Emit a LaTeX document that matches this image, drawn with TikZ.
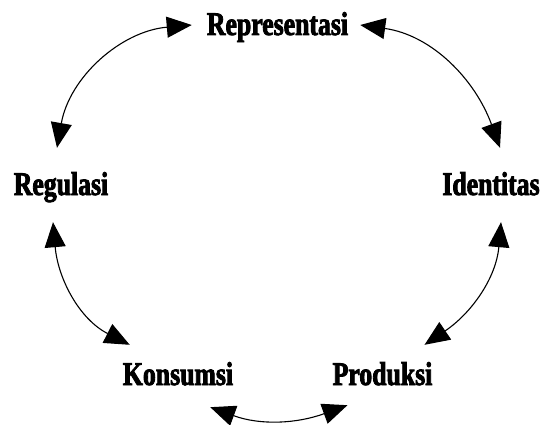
\documentclass[tikz,border=0pt]{standalone}
\usepackage{fontspec}
\newfontfamily\labelfont[FakeStretch=0.78,FakeBold=2.5]{Liberation Serif Bold}
\usetikzlibrary{arrows.meta}
\begin{document}
\begin{tikzpicture}[x=1pt,y=1pt,
  lbl/.style={anchor=base,inner sep=0pt,text height=23pt,text depth=7pt,
    font=\labelfont\fontsize{33}{36}\selectfont},
  link/.style={line width=1.1pt,
    {Triangle[length=25pt,width=21pt]}-{Triangle[length=25pt,width=21pt]}}]
\useasboundingbox (0,0) rectangle (543,424);
\node[lbl] (rep) at (277.5,389) {Representasi};
\node[lbl] (reg) at (61,229) {Regulasi};
\node[lbl] (ide) at (491,229) {Identitas};
\node[lbl] (kon) at (178,39) {Konsumsi};
\node[lbl] (pro) at (382.5,39) {Produksi};
\draw[link] ([shift={(-15,2)}]rep.west) to[out=185,in=80] ([shift={(-4,24)}]reg.north);
\draw[link] ([shift={(12,2)}]rep.east) to[out=-8,in=110] ([shift={(9,24)}]ide.north);
\draw[link] ([shift={(10,-20)}]ide.south) to[out=-95,in=34] ([shift={(-8,17)}]pro.north east);
\draw[link] ([shift={(-8,-20)}]reg.south) to[out=-85,in=153] ([shift={(7,17)}]kon.north west);
\draw[link] ([shift={(-23,-15)}]kon.south east) to[out=-20,in=200] ([shift={(15,-13)}]pro.south west);
\end{tikzpicture}
\end{document}
